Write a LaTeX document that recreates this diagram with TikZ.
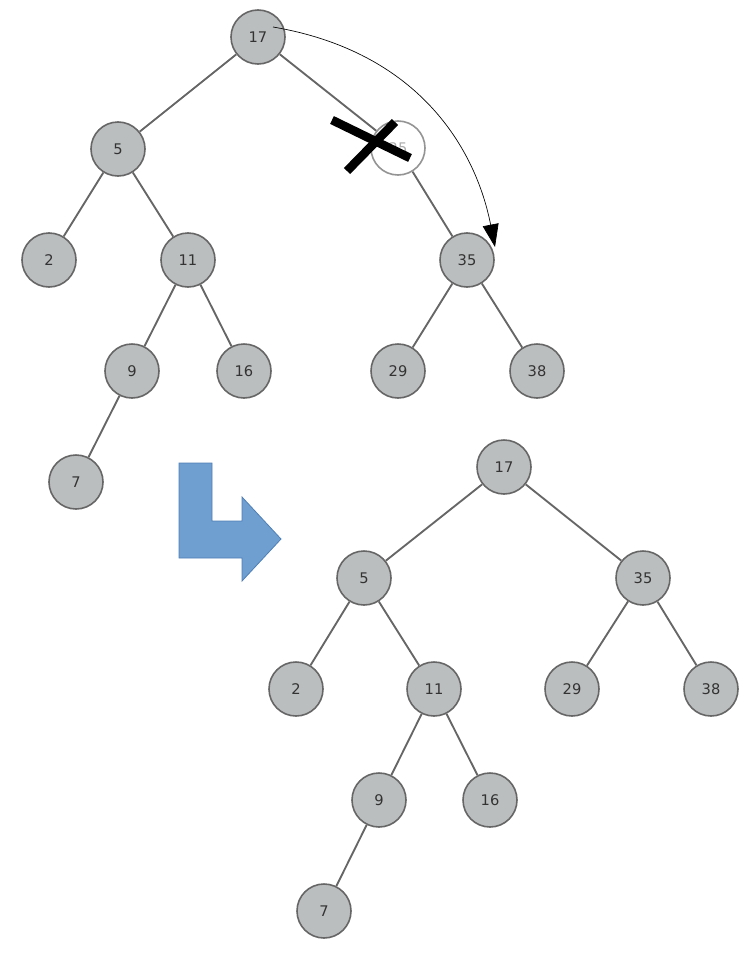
\documentclass[tikz,border=0pt]{standalone}
\usepackage{fontspec}
\setmainfont{DejaVu Sans}
\usetikzlibrary{arrows.meta}
\definecolor{nodefill}{HTML}{BBBEBF}
\definecolor{nodeedge}{HTML}{666666}
\definecolor{txt}{HTML}{333333}
\definecolor{arrfill}{HTML}{6F9FD0}
\definecolor{arredge}{HTML}{4F7FB5}
\tikzset{
  tnode/.style={circle, draw=nodeedge, fill=nodefill, line width=1.2pt, minimum size=40.5pt, inner sep=0pt, text=txt, font=\fontsize{11}{13}\selectfont},
  gone/.style={tnode, fill=white, draw=nodeedge!70, text=txt!40},
  tedge/.style={draw=nodeedge, line width=1.4pt},
  xmark/.style={line width=6.5pt, black},
  moveto/.style={-{Triangle[length=17pt,width=12pt]}, line width=0.5pt, black}
}
\begin{document}
\begin{tikzpicture}[x=0.75pt, y=-0.75pt]
\useasboundingbox (0,0) rectangle (754,960);
% top tree
\node[tnode] (a17) at (258,37) {17};
\node[tnode] (a5) at (118,149) {5};
\node[gone] (a25) at (398,148) {25};
\node[tnode] (a2) at (49,260) {2};
\node[tnode] (a11) at (188,260) {11};
\node[tnode] (a35) at (467,260) {35};
\node[tnode] (a9) at (132,371) {9};
\node[tnode] (a16) at (244,371) {16};
\node[tnode] (a29) at (398,371) {29};
\node[tnode] (a38) at (537,371) {38};
\node[tnode] (a7) at (76,482) {7};
\draw[tedge] (a17) -- (a5);
\draw[tedge] (a17) -- (a25);
\draw[tedge] (a5) -- (a2);
\draw[tedge] (a5) -- (a11);
\draw[tedge] (a11) -- (a9);
\draw[tedge] (a11) -- (a16);
\draw[tedge] (a9) -- (a7);
\draw[tedge] (a25) -- (a35);
\draw[tedge] (a35) -- (a29);
\draw[tedge] (a35) -- (a38);
% cross
\coordinate (x1) at (332,120);
\coordinate (x2) at (410,158);
\coordinate (x3) at (395,122);
\coordinate (x4) at (347,171);
\draw[xmark] (x1) -- (x2);
\draw[xmark] (x3) -- (x4);
% move arrow
\coordinate (mstart) at (273,27);
\coordinate (mend) at (495,247);
\draw[moveto] (mstart) .. controls (420,52) and (476,150) .. (mend);
% bent arrow
\draw[fill=arrfill, draw=arredge, line width=0.6pt]
  (179,463) -- (212,463) -- (212,521) -- (242,521) -- (242,497) -- (281,539)
  -- (242,581) -- (242,558) -- (179,558) -- cycle;
% bottom tree
\node[tnode] (b17) at (504,467) {17};
\node[tnode] (b5) at (364,578) {5};
\node[tnode] (b35) at (643,578) {35};
\node[tnode] (b2) at (296,689) {2};
\node[tnode] (b11) at (434,689) {11};
\node[tnode] (b29) at (572,689) {29};
\node[tnode] (b38) at (711,689) {38};
\node[tnode] (b9) at (379,800) {9};
\node[tnode] (b16) at (490,800) {16};
\node[tnode] (b7) at (324,911) {7};
\draw[tedge] (b17) -- (b5);
\draw[tedge] (b17) -- (b35);
\draw[tedge] (b5) -- (b2);
\draw[tedge] (b5) -- (b11);
\draw[tedge] (b11) -- (b9);
\draw[tedge] (b11) -- (b16);
\draw[tedge] (b9) -- (b7);
\draw[tedge] (b35) -- (b29);
\draw[tedge] (b35) -- (b38);
\end{tikzpicture}
\end{document}
